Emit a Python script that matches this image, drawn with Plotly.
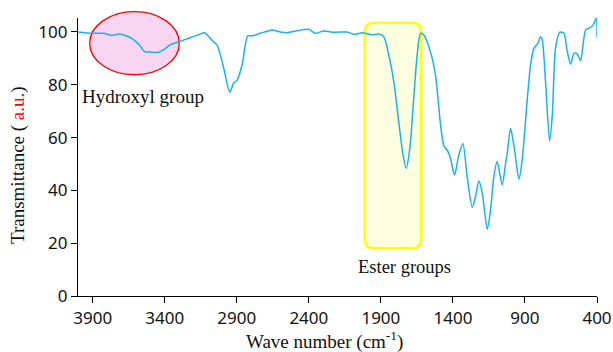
import plotly.graph_objects as go

# ---- data ----
wavenumber = [4000, 3907, 3826, 3769, 3711, 3630, 3583, 3537, 3502, 3444, 3410, 3363, 3306, 3236,
              3155, 3125, 3062, 3037, 2993, 2949, 2922, 2898, 2863, 2824, 2794, 2736, 2655, 2597,
              2551, 2481, 2401, 2354, 2297, 2227, 2134, 2088, 2030, 2007, 1960, 1915, 1880, 1845,
              1810, 1776, 1746, 1724, 1699, 1672, 1648, 1625, 1602, 1556, 1521, 1486, 1463, 1440,
              1417, 1389, 1359, 1331, 1301, 1266, 1243, 1220, 1196, 1162, 1139, 1116, 1093, 1058,
              1035, 1023, 1000, 972, 942, 919, 884, 861, 838, 810, 792, 780, 757, 729, 710, 688,
              658, 630, 606, 583, 560, 537, 514, 479, 456, 426, 405, 400]
transmittance = [100, 99.5, 99.5, 98.7, 99.2, 97.6, 95.5, 92.5, 92.4, 92.3, 93.2, 95.1, 96.2, 97.6,
                 99.2, 99.7, 96.3, 95.1, 86.9, 77.2, 80.6, 81.8, 87.5, 98.5, 98.5, 99.5, 100.8, 100,
                 99.7, 100.5, 101, 99.5, 100.4, 99.9, 100, 99.1, 99.7, 99.5, 98.9, 99.2, 98.2, 91.3,
                 81.2, 66, 53.4, 48.4, 55.9, 74.9, 91.3, 99.5, 98.9, 92.5, 83.7, 65, 56.8, 55.3,
                 52.2, 45.8, 53.4, 57.8, 45.2, 33.6, 37.6, 43.6, 38.9, 25.3, 32.6, 45.2, 50.9, 42,
                 50, 54, 63.5, 55.3, 44.3, 51.5, 74.5, 87.5, 93.8, 95.7, 98.2, 97, 81.2, 58.7, 68.6, 93.8,
                 99.9, 99.5, 92.5, 87.8, 91.9, 91.7, 89.1, 100.8, 101.4, 102.7, 105.2, 97.9]

x_tickvals = [3900, 3400, 2900, 2400, 1900, 1400, 900, 400]
y_tickvals = [0, 20, 40, 60, 80, 100]
x_range = [4002, 400]
y_range = [0, 105.3]

# highlighted regions (data units)
hydroxyl_box = dict(x0=3921, x1=3299, y0=83.8, y1=107.7)
ester_box = dict(x0=2012, x1=1620, y0=18.1, y1=103.5)

W, H = 613, 352
ML, MR, MT, MB = 78, 16, 18, 56
PW, PH = W - ML - MR, H - MT - MB

def fx(x):
    return (x_range[0] - x) / (x_range[0] - x_range[1])

def fy(y):
    return (y - y_range[0]) / (y_range[1] - y_range[0])

def rounded_rect(x0, x1, y0, y1, r_px):
    a, b = fx(x0), fx(x1)
    c, d = fy(y0), fy(y1)
    rx, ry = r_px / PW, r_px / PH
    return (f"M {a+rx},{c} L {b-rx},{c} Q {b},{c} {b},{c+ry} "
            f"L {b},{d-ry} Q {b},{d} {b-rx},{d} "
            f"L {a+rx},{d} Q {a},{d} {a},{d-ry} "
            f"L {a},{c+ry} Q {a},{c} {a+rx},{c} Z")

serif = "Liberation Serif, Times New Roman, serif"
sans = "Noto Sans, Open Sans, sans-serif"

fig = go.Figure()

fig.add_shape(type="path", xref="paper", yref="paper",
              path=rounded_rect(**ester_box, r_px=9),
              fillcolor="#fdfddf", line=dict(color="#ffff00", width=2.5), layer="below")
fig.add_shape(type="circle", xref="paper", yref="paper",
              x0=fx(hydroxyl_box["x0"]), x1=fx(hydroxyl_box["x1"]),
              y0=fy(hydroxyl_box["y0"]), y1=fy(hydroxyl_box["y1"]),
              fillcolor="#f8d6f1", line=dict(color="#ff0000", width=1.3), layer="below")

fig.add_trace(go.Scatter(x=wavenumber, y=transmittance, mode="lines",
                         line=dict(color="#19b2ee", width=1.5, shape="spline", smoothing=0.7),
                         showlegend=False, cliponaxis=False))

fig.add_annotation(x=3554, y=75.5, xref="x", yref="y", text="Hydroxyl group", showarrow=False,
                   font=dict(family=serif, size=19, color="#111111"))
fig.add_annotation(x=1733, y=10.9, xref="x", yref="y", text="Ester groups", showarrow=False,
                   font=dict(family=serif, size=18.5, color="#111111"))

# axis titles (placed as annotations to match reference position)
fig.add_annotation(x=(18 - ML) / PW, y=(H - MB - 165) / PH, xref="paper", yref="paper",
                   text="Transmittance ( <span style='color:#ff0000'>a.u.</span>)",
                   textangle=-90, showarrow=False, xanchor="center", yanchor="middle",
                   font=dict(family=serif, size=19, color="#111111"))
fig.add_annotation(x=(324 - ML) / PW, y=(H - MB - 340) / PH, xref="paper", yref="paper",
                   text="Wave number (cm<sup>-1</sup>)", showarrow=False,
                   xanchor="center", yanchor="middle",
                   font=dict(family=serif, size=19, color="#111111"))

fig.update_layout(
    width=W, height=H,
    margin=dict(l=ML, r=MR, t=MT, b=MB, autoexpand=False),
    paper_bgcolor="white", plot_bgcolor="white",
    xaxis=dict(range=x_range, tickvals=x_tickvals, ticktext=[str(v) for v in x_tickvals],
               showgrid=False, zeroline=False, showline=True, linecolor="black", linewidth=1.3,
               ticks="outside", ticklen=6, tickcolor="black", tickwidth=1.2,
               tickfont=dict(family=sans, size=17, color="#111111")),
    yaxis=dict(range=y_range, tickvals=y_tickvals,
               showgrid=False, zeroline=False, showline=True, linecolor="black", linewidth=1.3,
               ticks="outside", ticklen=6, tickcolor="black", tickwidth=1.2,
               tickfont=dict(family=sans, size=17, color="#111111")),
)

fig.write_html("out.html", config={"displayModeBar": False},
               post_script="document.body.style.margin='0';document.body.style.overflow='hidden';")
